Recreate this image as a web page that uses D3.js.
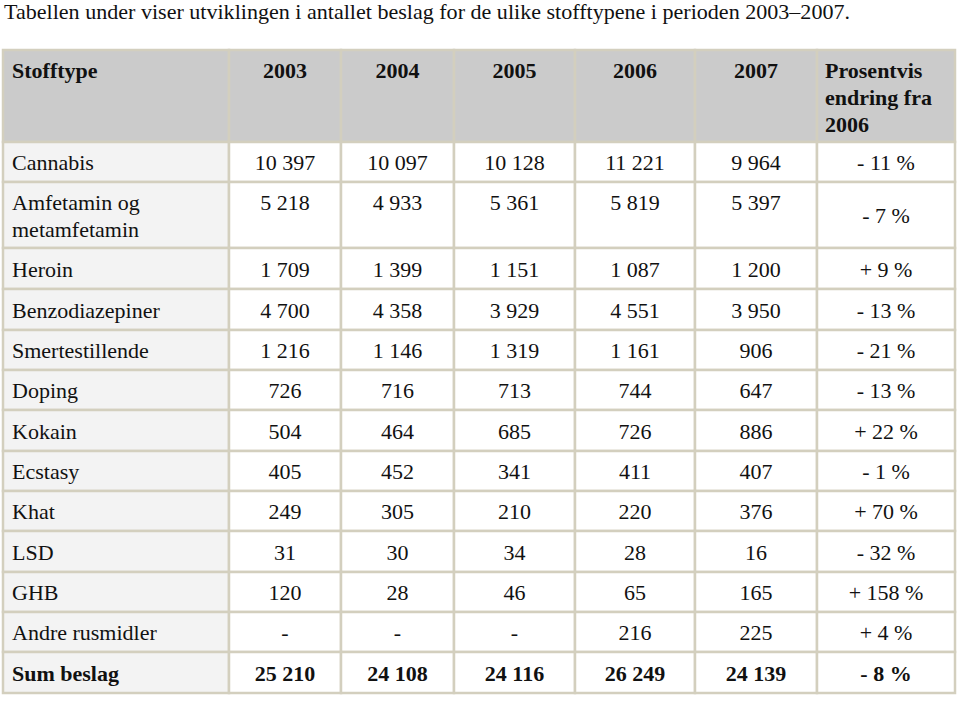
<!DOCTYPE html>
<html><head><meta charset="utf-8">
<script src="https://cdn.jsdelivr.net/npm/d3@7"></script>
<style>body{margin:0;background:#fff}svg{display:block}</style>
</head><body>
<script>
const title = "Tabellen under viser utviklingen i antallet beslag for de ulike stofftypene i perioden 2003–2007.";
const years = ["2003","2004","2005","2006","2007"];
const categories = ["Cannabis","Amfetamin og metamfetamin","Heroin","Benzodiazepiner","Smertestillende","Doping","Kokain","Ecstasy","Khat","LSD","GHB","Andre rusmidler"];
const v2003 = [10397,5218,1709,4700,1216,726,504,405,249,31,120,null];
const v2004 = [10097,4933,1399,4358,1146,716,464,452,305,30,28,null];
const v2005 = [10128,5361,1151,3929,1319,713,685,341,210,34,46,null];
const v2006 = [11221,5819,1087,4551,1161,744,726,411,220,28,65,216];
const v2007 = [9964,5397,1200,3950,906,647,886,407,376,16,165,225];
const pctChange = ["- 11 %","- 7 %","+ 9 %","- 13 %","- 21 %","- 13 %","+ 22 %","- 1 %","+ 70 %","- 32 %","+ 158 %","+ 4 %"];
const sumLabel = "Sum beslag";
const sumValues = [25210,24108,24116,26249,24139];
const sumPct = "- 8 %";

const W = 960, H = 701;
const fontFam = "Liberation Serif";
const fs = 22;
const fmt = v => v == null ? "-" : String(v).replace(/\B(?=(\d{3})+(?!\d))/g, " ");

const svg = d3.select("body").append("svg").attr("width", W).attr("height", H);

svg.append("text").attr("x", 4).attr("y", 19).attr("fill", "#111")
  .attr("font-family", fontFam).attr("font-size", 21)
  .attr("textLength", 846).attr("lengthAdjust", "spacingAndGlyphs").text(title);

const colEdges = [3, 229, 341, 454, 575, 695, 817, 955];
const rowHeights = [92, 40, 66, 41, 41, 40, 40, 41, 40, 40, 41, 40, 40, 41];
const top0 = 50;
const rowEdges = [top0];
rowHeights.forEach(h => rowEdges.push(rowEdges[rowEdges.length-1] + h));

const headerBg = "#cbcbcb", firstColBg = "#f3f3f3", border = "#d3cfbe";
const series = [v2003, v2004, v2005, v2006, v2007];

const rows = [];
rows.push({type:"header", cells:["Stofftype", ...years, "Prosentvis endring fra 2006"]});
categories.forEach((c,i) => rows.push({type:"data", cells:[c, ...series.map(s => fmt(s[i])), pctChange[i]]}));
rows.push({type:"sum", cells:[sumLabel, ...sumValues.map(fmt), sumPct]});

const g = svg.append("g");
rows.forEach((r, ri) => {
  const y0 = rowEdges[ri], y1 = rowEdges[ri+1];
  r.cells.forEach((txt, ci) => {
    const x0 = colEdges[ci], x1 = colEdges[ci+1];
    const bg = r.type === "header" ? headerBg : (ci === 0 ? firstColBg : "#fff");
    g.append("rect").attr("x", x0).attr("y", y0).attr("width", x1-x0).attr("height", y1-y0)
      .attr("fill", bg).attr("stroke", border).attr("stroke-width", 2.5);
    const bold = r.type !== "data";
    let anchor = ci === 0 ? "start" : "middle";
    let tx = ci === 0 ? x0 + 9 : (x0 + x1) / 2;
    let lines = [txt];
    let ty;
    if (r.type === "header") {
      if (ci === 6) { lines = ["Prosentvis", "endring fra", "2006"]; anchor = "start"; tx = x0 + 8; }
      ty = y0 + 28;
    } else if (ri === 2 && ci === 0) {
      lines = ["Amfetamin og", "metamfetamin"]; ty = y0 + 28;
    } else if (ri === 2 && ci < 6) {
      ty = y0 + 28;
    } else {
      ty = (y0 + y1) / 2 + 8;
    }
    const t = g.append("text").attr("text-anchor", anchor).attr("fill", "#111")
      .attr("font-family", fontFam).attr("font-size", fs)
      .attr("font-weight", bold ? "bold" : "normal");
    lines.forEach((l, li) => t.append("tspan").attr("x", tx).attr("y", ty + li * 27).text(l));
  });
});
</script>
</body></html>
